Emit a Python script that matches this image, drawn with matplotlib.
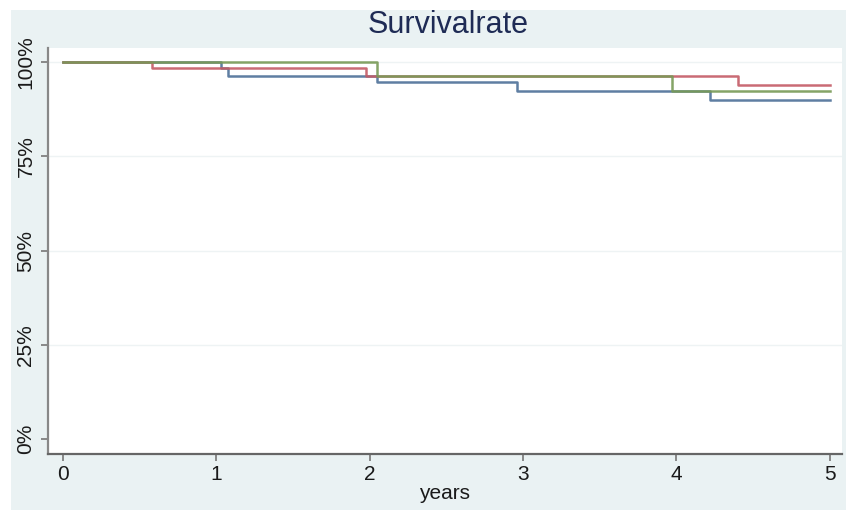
import matplotlib.pyplot as plt
from matplotlib.patches import Rectangle
from matplotlib.ticker import FuncFormatter

# Kaplan-Meier style step data (years, survival %)
blue_t = [0, 1.03, 1.08, 2.05, 2.96, 4.22, 5]
blue_s = [100, 98.3, 96.3, 94.6, 92.3, 89.9, 89.9]

red_t = [0, 0.58, 1.98, 4.40, 5]
red_s = [100, 98.3, 96.3, 93.9, 93.9]

green_t = [0, 2.05, 3.97, 5]
green_s = [100, 96.2, 92.2, 92.2]

yticks = [0, 25, 50, 75, 100]
xticks = [0, 1, 2, 3, 4, 5]

bg = '#eaf2f3'
fam = ['Liberation Sans Narrow', 'Liberation Sans', 'DejaVu Sans']

fig = plt.figure(figsize=(8.46, 5.13), dpi=100, facecolor='white')
fig.patches.append(Rectangle((11 / 846, 3 / 513), 835 / 846, 500 / 513,
                             transform=fig.transFigure, facecolor=bg,
                             edgecolor='none', zorder=-10))

ax = fig.add_axes([48 / 846, 59 / 513, 794 / 846, 406 / 513])
ax.set_facecolor('white')

ax.step(blue_t, blue_s, where='post', color='#4d7098', lw=1.8, alpha=0.9)
ax.step(red_t, red_s, where='post', color='#c45b66', lw=1.8, alpha=0.9)
ax.step(green_t, green_s, where='post', color='#789a56', lw=1.8, alpha=0.9)

ax.set_xlim(-0.096, 5.08)
ax.set_ylim(-3.9, 103.7)

for y in yticks[1:]:
    ax.axhline(y, color='#eef3f4', lw=1.0, zorder=0)

ax.set_yticks(yticks)
ax.yaxis.set_major_formatter(FuncFormatter(lambda v, p: f'{v:.0f}%'))
ax.set_xticks(xticks)

for lbl in ax.get_yticklabels():
    lbl.set_rotation(90)
    lbl.set_va('center')
    lbl.set_family(fam)
    lbl.set_fontsize(15)
for lbl in ax.get_xticklabels():
    lbl.set_family(fam)
    lbl.set_fontsize(15)

ax.tick_params(axis='both', colors='#777777', length=5, width=1.2,
               labelcolor='#1a1a1a')
ax.tick_params(axis='y', pad=4)
ax.tick_params(axis='x', pad=3)

for side in ['top', 'right']:
    ax.spines[side].set_visible(False)
ax.spines['left'].set_color('#888888')
ax.spines['left'].set_linewidth(1.6)
ax.spines['bottom'].set_color('#666666')
ax.spines['bottom'].set_linewidth(1.6)

ax.set_xlabel('years', fontsize=15, family=fam, color='#1a1a1a', labelpad=0)
fig.text(448 / 846, 1 - 25 / 513, 'Survivalrate', ha='center', va='center',
         fontsize=22, family=['Liberation Sans', 'DejaVu Sans'],
         color='#1e2b55')

fig.savefig('out.png', dpi=100, facecolor=fig.get_facecolor())
